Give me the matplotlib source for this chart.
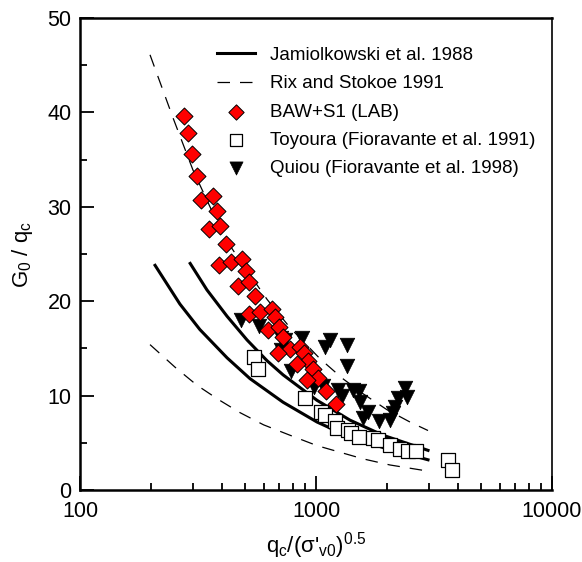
import matplotlib
matplotlib.use('Agg')
import matplotlib.pyplot as plt
from matplotlib.ticker import FixedLocator, NullFormatter, MultipleLocator

plt.rcParams['font.family'] = ['Liberation Sans', 'DejaVu Sans']
plt.rcParams['mathtext.default'] = 'regular'

# Jamiolkowski et al. 1988 (lower and upper bounds)
jam_lo_x = [208, 265, 322, 420, 525, 725, 1010, 1393, 1923, 2983]
jam_lo_y = [23.8, 19.7, 17.0, 14.0, 11.8, 9.3, 7.2, 5.6, 4.5, 3.2]
jam_hi_x = [293, 345, 420, 510, 620, 725, 1010, 1393, 1923, 2983]
jam_hi_y = [24.0, 21.2, 18.4, 15.9, 13.7, 12.2, 9.5, 7.4, 5.8, 4.2]

# Rix and Stokoe 1991 (upper and lower)
rix_hi_x = [198, 248, 301, 404, 462, 620, 776, 1040, 1298, 1582, 2000, 2502, 2983]
rix_hi_y = [46.1, 39.4, 33.9, 27.0, 24.8, 20.2, 17.2, 13.9, 11.8, 10.2, 8.5, 7.2, 6.3]
rix_lo_x = [198, 253, 313, 385, 476, 600, 776, 1010, 1582, 2059, 2983]
rix_lo_y = [15.4, 13.0, 11.1, 9.6, 8.2, 6.9, 5.8, 4.7, 3.3, 2.65, 2.0]

# BAW+S1 (LAB)
baw_x = [277, 286, 298, 312, 327, 367, 380, 353, 393, 414, 389, 436, 487, 505,
         469, 522, 550, 522, 579, 649, 670, 624, 697, 727, 776, 692, 855, 892,
         928, 828, 974, 1023, 913, 1103, 1216]
baw_y = [39.6, 37.8, 35.6, 33.3, 30.7, 31.1, 29.6, 27.6, 28.0, 26.1, 23.8, 24.1,
         24.5, 23.2, 21.6, 22.0, 20.6, 18.6, 18.9, 19.2, 18.3, 17.0, 17.3, 16.2,
         14.9, 14.5, 15.2, 14.5, 13.7, 13.4, 12.8, 11.9, 11.7, 10.5, 9.1]

# Toyoura (Fioravante et al. 1991)
toy_x = [545, 570, 898, 1047, 1095, 1204, 1231, 1362, 1411, 1525, 1740, 1830,
         2059, 2270, 2460, 2650, 3640, 3780]
toy_y = [14.1, 12.8, 9.7, 8.3, 7.9, 7.3, 6.6, 6.4, 6.0, 5.65, 5.5, 5.3,
         4.8, 4.3, 4.1, 4.1, 3.2, 2.1]

# Quiou (Fioravante et al. 1998)
qui_x = [481, 574, 711, 739, 713, 870, 1092, 1146, 1349, 1349, 781, 980, 1068,
         1243, 1295, 1439, 1520, 1536, 1666, 1586, 1854, 2059, 2126, 2170, 2233,
         2423, 2375]
qui_y = [18.0, 17.4, 16.1, 15.9, 14.8, 16.1, 15.2, 15.9, 15.4, 13.1, 12.6, 10.9,
         11.0, 10.6, 10.0, 10.6, 10.5, 9.35, 8.3, 7.6, 7.3, 7.4, 8.2, 8.8, 9.7,
         9.9, 10.8]

fig = plt.figure(figsize=(5.82, 5.62), dpi=100)
ax = fig.add_axes([80 / 582, 72 / 562, 472 / 582, 472 / 562])

ax.plot(jam_lo_x, jam_lo_y, color='black', lw=2.2, label='Jamiolkowski et al. 1988')
ax.plot(jam_hi_x, jam_hi_y, color='black', lw=2.2)
ax.plot(rix_hi_x, rix_hi_y, color='black', lw=0.9, dashes=(10, 8),
        label='Rix and Stokoe 1991')
ax.plot(rix_lo_x, rix_lo_y, color='black', lw=0.9, dashes=(10, 8))
ax.scatter(baw_x, baw_y, marker='D', s=75, facecolor='#ff0000',
           edgecolor='black', linewidth=0.7, zorder=4, label='BAW+S1 (LAB)')
ax.scatter(toy_x, toy_y, marker='s', s=90, facecolor='white',
           edgecolor='black', linewidth=0.9, zorder=3,
           label='Toyoura (Fioravante et al. 1991)')
ax.scatter(qui_x, qui_y, marker='v', s=110, facecolor='black',
           edgecolor='black', linewidth=0.5, zorder=3,
           label='Quiou (Fioravante et al. 1998)')

ax.set_xscale('log')
ax.set_xlim(100, 10000)
ax.set_ylim(0, 50)
ax.yaxis.set_major_locator(MultipleLocator(10))
ax.yaxis.set_minor_locator(MultipleLocator(5))
ax.xaxis.set_major_locator(FixedLocator([100, 1000, 10000]))
ax.set_xticklabels(['100', '1000', '10000'])
ax.xaxis.set_minor_formatter(NullFormatter())

ax.tick_params(which='both', direction='in', top=False, right=False,
               labelsize=15.5, width=1.3)
ax.tick_params(axis='y', pad=6)
ax.tick_params(axis='x', pad=8)
ax.tick_params(which='major', length=10)
ax.tick_params(which='minor', length=5)
for side in ['left', 'bottom', 'top']:
    ax.spines[side].set_linewidth(1.8)
ax.spines['right'].set_linewidth(1.2)

ax.set_xlabel("q$_c$/(σ'$_{v0}$)$^{0.5}$", fontsize=16, labelpad=6)
ax.set_ylabel('G$_0$ / q$_c$', fontsize=16, labelpad=9)

ax.legend(loc='upper left', bbox_to_anchor=(0.255, 0.975), frameon=False,
          fontsize=13.5, handlelength=2.0, handletextpad=0.8, labelspacing=0.6,
          scatterpoints=1, markerscale=0.9)

fig.savefig('out.png', dpi=100)
